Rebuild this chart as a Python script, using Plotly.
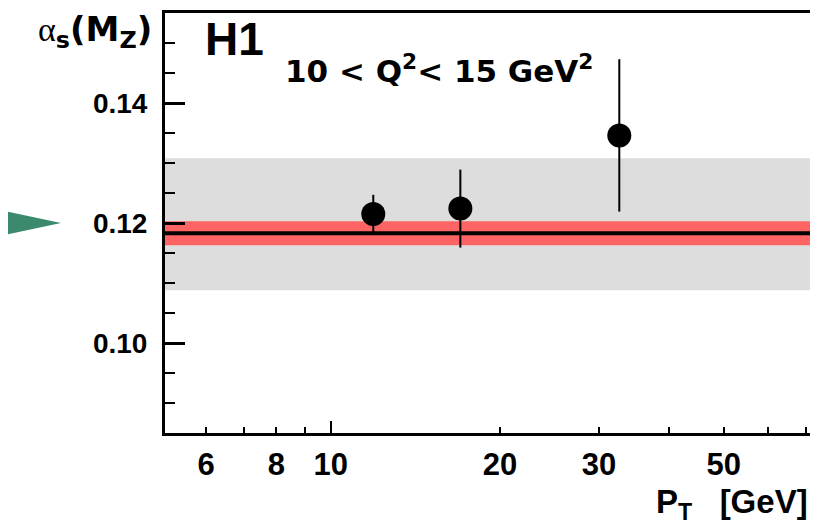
import math
import plotly.graph_objects as go

# ---- data ----
pt_values = [11.9, 17.0, 32.6]
alpha_values = [0.1215, 0.1224, 0.1346]
alpha_errors = [0.0032, 0.0065, 0.0127]

world_avg = 0.1183
world_avg_err = 0.0020
theory_band_low = 0.1088
theory_band_high = 0.1308
arrow_value = 0.12

x_tick_vals = [6, 8, 10, 20, 30, 50]
x_tick_text = ["6", "8", "10", "20", "30", "50"]
x_minor_vals = [7, 9, 40, 60, 70]
x_major_vals = [10]
y_tick_vals = [0.10, 0.12, 0.14]
y_tick_text = ["0.10", "0.12", "0.14"]

x_range = [5.07, 71.2]
y_range = [0.085, 0.155]

FONT = "Liberation Sans, Arial, sans-serif"
WIDE = "DejaVu Sans, Liberation Sans, sans-serif"

# the page body has an 8px margin: the figure sits at (8, 8) and can be at most 802 px wide
OFF = 8
W, H = 802, 520
PLOT_L, PLOT_R, PLOT_T, PLOT_B = 165, OFF + W, 13, 433

fig = go.Figure()

fig.add_trace(go.Scatter(
    x=pt_values, y=alpha_values, mode="markers",
    marker=dict(color="black", size=24, line=dict(width=0)),
    error_y=dict(type="data", array=alpha_errors, color="black", thickness=2, width=0),
    showlegend=False, hoverinfo="skip",
))

# invisible trace on overlay axis carrying the long decade tick
fig.add_trace(go.Scatter(x=x_major_vals, y=[world_avg], xaxis="x2", mode="markers",
                         marker=dict(opacity=0), showlegend=False, hoverinfo="skip"))

# bands and central line
fig.add_shape(type="rect", xref="paper", yref="y", x0=0, x1=1,
              y0=theory_band_low, y1=theory_band_high,
              fillcolor="#dddddd", line=dict(width=0), layer="below")
fig.add_shape(type="rect", xref="paper", yref="y", x0=0, x1=1,
              y0=world_avg - world_avg_err, y1=world_avg + world_avg_err,
              fillcolor="#ff6464", line=dict(width=0), layer="below")
fig.add_shape(type="line", xref="paper", yref="y", x0=0, x1=1,
              y0=world_avg, y1=world_avg, line=dict(color="black", width=4), layer="below")

# green arrow in the left margin
fig.add_shape(type="path", xref="paper", yref="y", xsizemode="pixel", ysizemode="pixel",
              xanchor=0, yanchor=arrow_value,
              path="M -170,-14 L -104,0 L -170,14 Z",
              fillcolor="#3b8a6d", line=dict(width=0))

tickfont_y = dict(family=FONT, size=28, color="black", weight="bold")
tickfont_x = dict(family=FONT, size=31, color="black", weight="bold")

fig.update_layout(
    width=W, height=H,
    margin=dict(l=PLOT_L - OFF, r=0, t=PLOT_T - OFF, b=(OFF + H) - PLOT_B,
                autoexpand=False),
    paper_bgcolor="white", plot_bgcolor="white",
    xaxis=dict(type="log", range=[math.log10(v) for v in x_range],
               tickmode="array", tickvals=x_tick_vals, ticktext=x_tick_text,
               ticks="inside", ticklen=6, tickwidth=2, tickcolor="black",
               showline=True, linecolor="black", linewidth=3, mirror=True,
               showgrid=False, zeroline=False, tickfont=tickfont_x,
               ticklabelstandoff=2, automargin=False,
               minor=dict(tickmode="array", tickvals=x_minor_vals, ticks="inside",
                          ticklen=6, tickwidth=2, tickcolor="black", showgrid=False)),
    xaxis2=dict(type="log", range=[math.log10(v) for v in x_range],
                overlaying="x", side="bottom", tickmode="array", tickvals=x_major_vals,
                ticks="inside", ticklen=12, tickwidth=2, tickcolor="black",
                showticklabels=False, showline=False, showgrid=False, zeroline=False),
    yaxis=dict(range=y_range, tickmode="array", tickvals=y_tick_vals, ticktext=y_tick_text,
               ticks="inside", ticklen=20, tickwidth=3, tickcolor="black",
               showline=True, linecolor="black", linewidth=3, mirror=False,
               showgrid=False, zeroline=False, tickfont=tickfont_y,
               ticklabelstandoff=9, automargin=False,
               minor=dict(dtick=0.005, tick0=0.0, ticks="inside", ticklen=10,
                          tickwidth=2, tickcolor="black", showgrid=False)),
    showlegend=False,
)

PW = PLOT_R - PLOT_L
PH = PLOT_B - PLOT_T


def px(x):
    return (x - PLOT_L) / PW


def py(y):
    return (PLOT_B - y) / PH


fig.add_annotation(xref="paper", yref="paper", x=px(203), y=py(39),
                   xanchor="left", yanchor="middle", showarrow=False,
                   text="<b>H1</b>", font=dict(family=FONT, size=46, color="black"))
fig.add_annotation(xref="paper", yref="paper", x=px(283), y=py(69),
                   xanchor="left", yanchor="middle", showarrow=False,
                   text="<b>10 < Q<sup>2</sup>< 15 GeV<sup>2</sup></b>",
                   font=dict(family=WIDE, size=31, color="black"))
fig.add_annotation(xref="paper", yref="paper", x=px(154), y=py(32),
                   xanchor="right", yanchor="middle", showarrow=False,
                   text="<span style=\"font-family:Liberation Serif;font-weight:normal\">α</span>"
                        "<b><sub>s</sub>(M<sub>Z</sub>)</b>",
                   font=dict(family=WIDE, size=34, color="black"))
fig.add_annotation(xref="paper", yref="paper", x=px(810), y=py(504),
                   xanchor="right", yanchor="middle", showarrow=False,
                   text="<b>P<sub>T</sub>&nbsp;&nbsp;&nbsp;[GeV]</b>",
                   font=dict(family=FONT, size=33, color="black"))

fig.write_html("out.html")
